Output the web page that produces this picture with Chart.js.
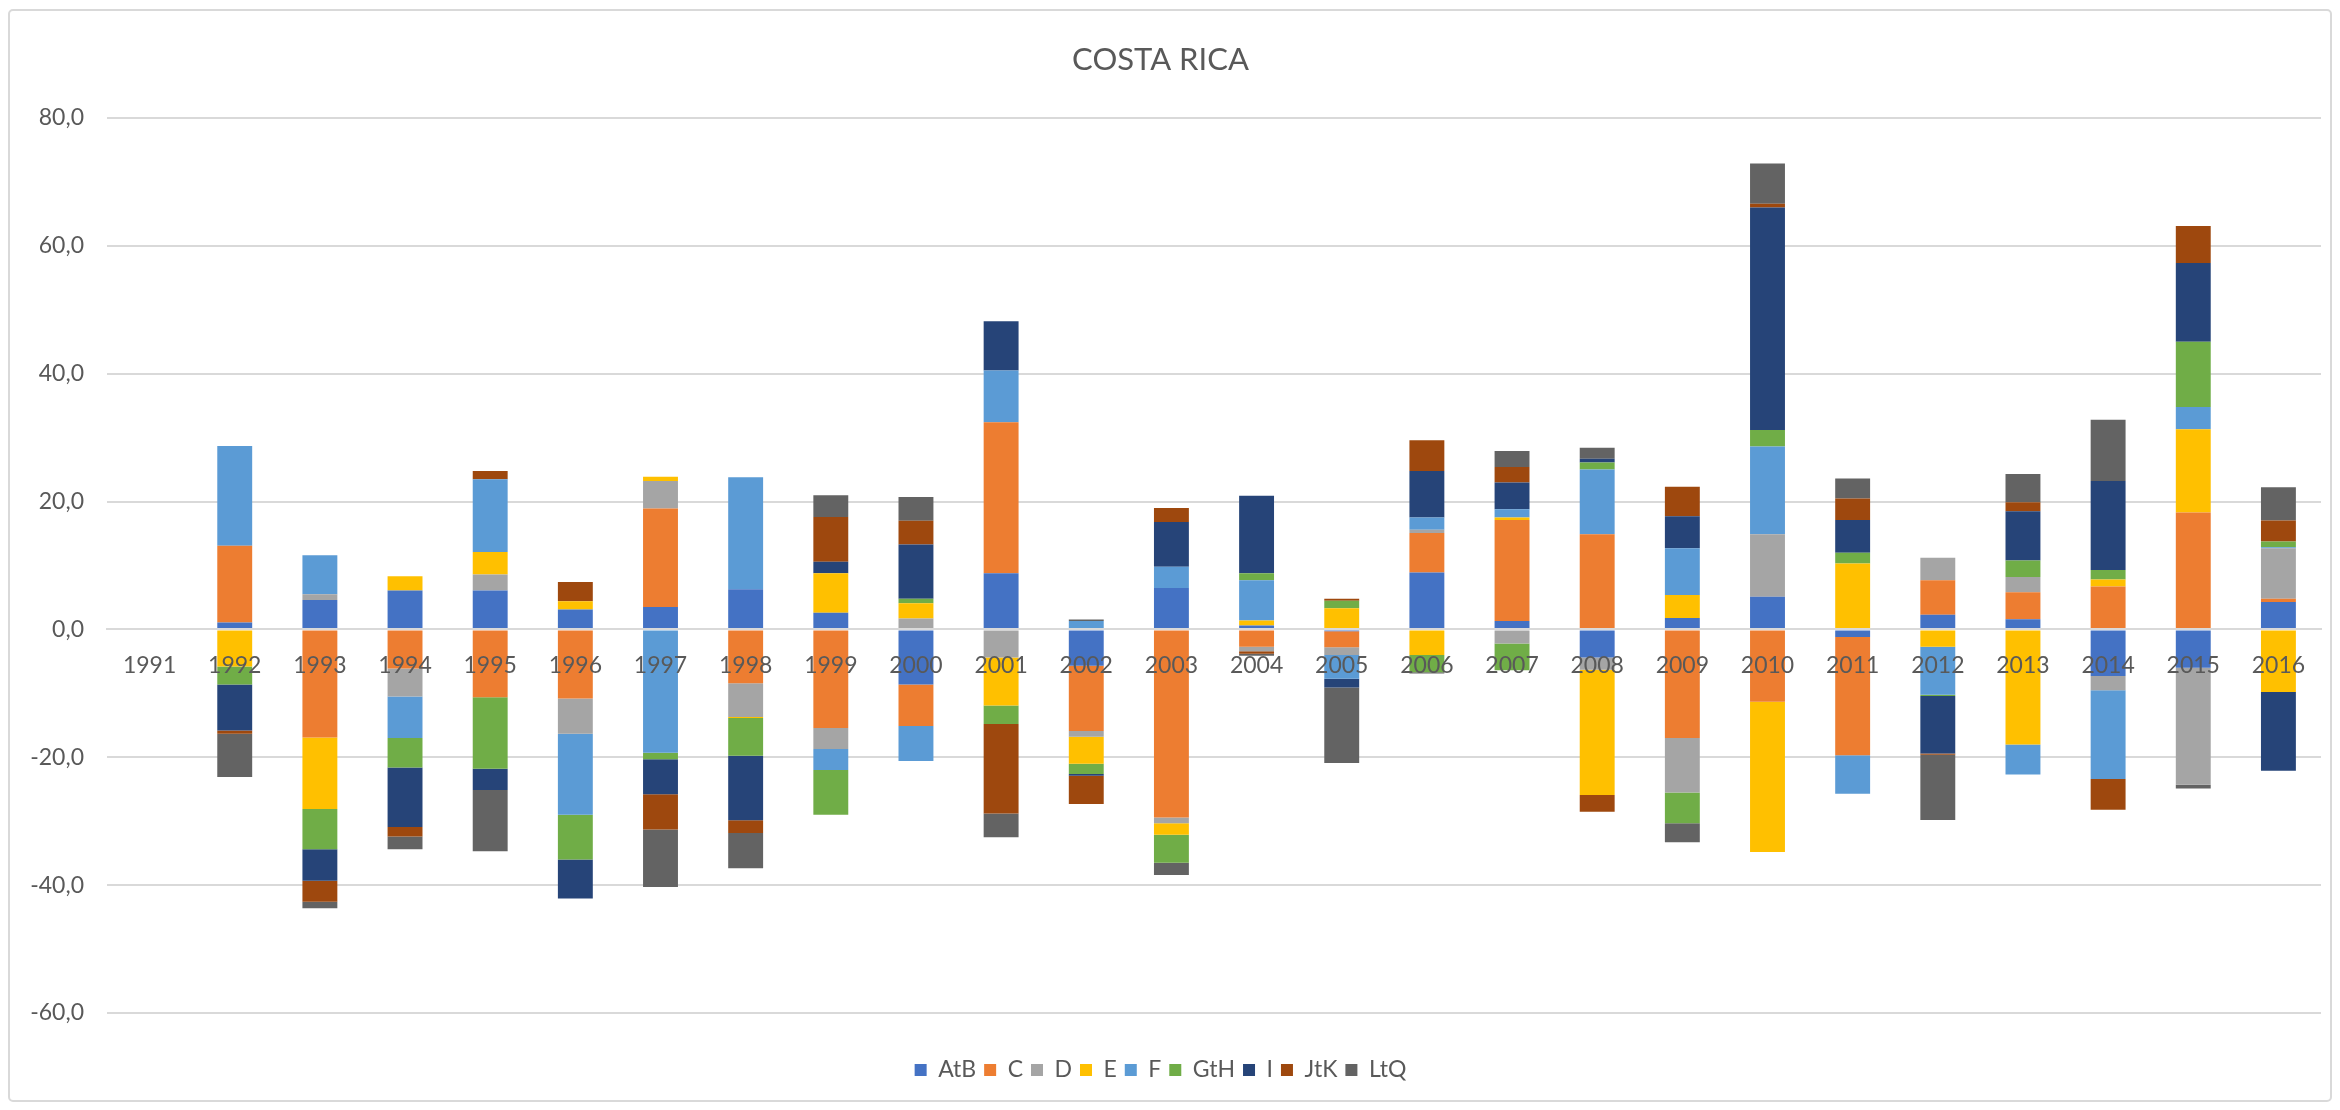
<!DOCTYPE html>
<html>
<head>
<meta charset="utf-8">
<script src="https://cdn.jsdelivr.net/npm/chart.js@4/dist/chart.umd.min.js"></script>
<style>
html, body { margin: 0; padding: 0; background: #ffffff; }
#c { display: block; }
</style>
</head>
<body>
<canvas id="c" width="2340" height="1110"></canvas>
<script>
const years = ['1991','1992','1993','1994','1995','1996','1997','1998','1999','2000','2001','2002','2003','2004','2005','2006','2007','2008','2009','2010','2011','2012','2013','2014','2015','2016'];

const seriesNames = ['AtB','C','D','E','F','GtH','I','JtK','LtQ'];

const AtB = [0, 1.1, 4.6, 6.1, 6.1, 3.1, 3.5, 6.3, 2.6, -8.6, 8.8, -5.7, 6.5, 0.6, -0.3, 8.9, 1.3, -4.4, 1.8, 5.1, -1.2, 2.3, 1.6, -7.3, -6.0, 4.3];
const C   = [0, 12.0, -16.9, -6.1, -10.6, -10.8, 15.4, -8.4, -15.4, -6.5, 23.6, -10.2, -29.4, -2.7, -2.5, 6.2, 15.8, 14.9, -17.0, -11.3, -18.5, 5.4, 4.2, 6.7, 18.3, 0.5];
const D   = [0, 0, 0.9, -4.4, 2.5, -5.5, 4.3, -5.3, -3.3, 1.7, -4.4, -0.9, -0.9, -0.7, -1.2, 0.5, -2.2, -1.9, -8.5, 9.8, 0, 3.5, 2.4, -2.2, -18.3, 7.9];
const E   = [0, -5.8, -11.2, 2.2, 3.5, 1.3, 0.7, -0.15, 6.2, 2.4, -7.5, -4.2, -1.8, 0.8, 3.3, -4.0, 0.4, -19.6, 3.6, -23.5, 10.3, -2.7, -18.0, 1.1, 13.0, -9.8];
const F   = [0, 15.6, 6.1, -6.5, 11.4, -12.7, -19.3, 17.5, -3.3, -5.5, 8.1, 1.3, 3.3, 6.3, -3.7, 1.9, 1.3, 10.1, 7.3, 13.7, -6.0, -7.5, -4.7, -13.9, 3.5, 0.15];
const GtH = [0, -2.8, -6.3, -4.6, -11.2, -7.0, -1.0, -5.9, -7.0, 0.7, -2.9, -1.6, -4.4, 1.1, 1.2, -2.7, -4.2, 1.1, -4.8, 2.6, 1.7, -0.2, 2.6, 1.5, 10.2, 0.9];
const I   = [0, -7.2, -4.9, -9.3, -3.3, -6.1, -5.5, -10.1, 1.8, 8.5, 7.7, -0.3, 7.0, 12.1, -1.4, 7.3, 4.2, 0.6, 5.0, 34.8, 5.1, -9.0, 7.7, 13.9, 12.3, -12.3];
const JtK = [0, -0.5, -3.3, -1.5, 1.3, 3.0, -5.5, -2.0, 7.0, 3.7, -14.0, -4.4, 2.2, -0.4, 0.3, 4.8, 2.4, -2.6, 4.6, 0.6, 3.4, -0.2, 1.4, -4.8, 5.8, 3.3];
const LtQ = [0, -6.8, -1.0, -2.0, -9.6, 0, -9.0, -5.5, 3.4, 3.7, -3.7, 0.25, -1.9, -0.3, -11.8, -0.2, 2.5, 1.7, -3.0, 6.3, 3.1, -10.2, 4.4, 9.6, -0.6, 5.2];

const yTicks = [-60, -40, -20, 0, 20, 40, 60, 80];
const chartTitle = 'COSTA RICA';

const seriesValues = [AtB, C, D, E, F, GtH, I, JtK, LtQ];
const seriesColors = ['#4472C4','#ED7D31','#A5A5A5','#FFC000','#5B9BD5','#70AD47','#264478','#9E480E','#636363'];

const FONT = 'Lato, "Open Sans", "DejaVu Sans", sans-serif';
const TXT = '#595959';

const frame = {
  id: 'frame',
  beforeDraw(chart) {
    const ctx = chart.ctx;
    ctx.save();
    ctx.fillStyle = '#ffffff';
    ctx.fillRect(0, 0, chart.width, chart.height);
    ctx.strokeStyle = '#d9d9d9';
    ctx.lineWidth = 2;
    ctx.beginPath();
    if (ctx.roundRect) ctx.roundRect(9, 10, 2322, 1091, 4); else ctx.rect(9, 10, 2322, 1091);
    ctx.stroke();
    ctx.restore();
  }
};

new Chart(document.getElementById('c'), {
  type: 'bar',
  data: {
    labels: years,
    datasets: seriesNames.map((n, i) => ({
      label: n,
      data: seriesValues[i],
      backgroundColor: seriesColors[i],
      borderWidth: 0,
      barPercentage: 0.41,
      categoryPercentage: 1.0
    }))
  },
  options: {
    responsive: false,
    animation: false,
    devicePixelRatio: 1,
    layout: { padding: { left: 0, right: 19, top: 0, bottom: 18.5 } },
    plugins: {
      title: {
        display: true,
        text: chartTitle,
        color: TXT,
        font: { family: FONT, size: 31, weight: 'normal' },
        padding: { top: 41.4, bottom: 39.4 }
      },
      legend: {
        display: true,
        position: 'bottom',
        title: { display: true, text: '', font: { size: 10 }, padding: { top: 25.5, bottom: 0 } },
        labels: {
          boxWidth: 12,
          boxHeight: 12,
          padding: 8,
          color: TXT,
          font: { family: FONT, size: 23 }
        }
      },
      tooltip: { enabled: false }
    },
    scales: {
      x: {
        stacked: true,
        position: { y: 0 },
        grid: { display: false, drawTicks: false },
        border: { display: true, color: '#d9d9d9', width: 2, z: 1 },
        ticks: { z: 1, color: TXT, font: { family: FONT, size: 23 }, padding: 22, maxRotation: 0, autoSkip: false }
      },
      y: {
        stacked: true,
        min: -60,
        max: 80,
        afterFit(scale) { scale.width = 107; },
        afterBuildTicks(scale) { scale.ticks = yTicks.map(v => ({ value: v })); },
        grid: { color: '#d9d9d9', lineWidth: 2, drawTicks: false },
        border: { display: false },
        ticks: {
          color: TXT,
          font: { family: FONT, size: 23 },
          padding: 23,
          callback: (v) => v.toFixed(1).replace('.', ',')
        }
      }
    }
  },
  plugins: [frame]
});
</script>
</body>
</html>
